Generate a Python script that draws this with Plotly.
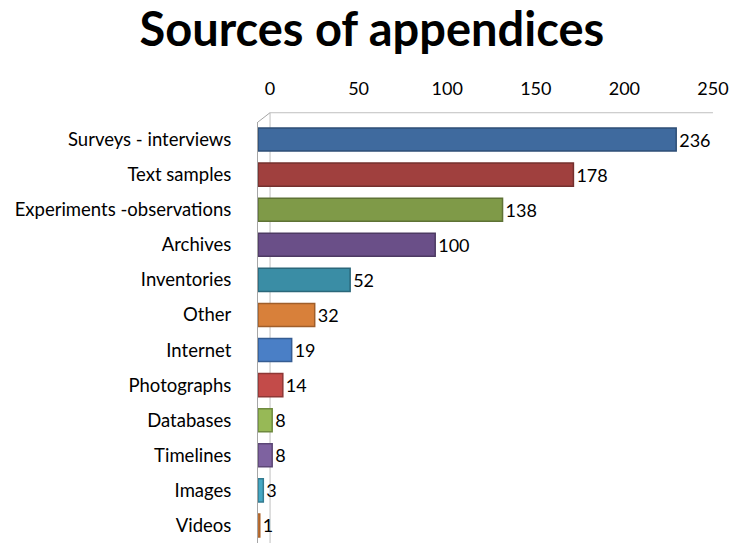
import plotly.graph_objects as go

categories = ["Surveys - interviews", "Text samples", "Experiments -observations",
              "Archives", "Inventories", "Other", "Internet", "Photographs",
              "Databases", "Timelines", "Images", "Videos"]
counts = [236, 178, 138, 100, 52, 32, 19, 14, 8, 8, 3, 1]
tick_values = [0, 50, 100, 150, 200, 250]

bar_colors = ["#3F6A9E", "#A0403E", "#7F9A48", "#6A4F88", "#3A8DA5", "#D8803A",
              "#4A7FC6", "#C34B49", "#97B956", "#7E62A0", "#46A8C4", "#E8883C"]
edge_colors = ["#2E4E75", "#74302E", "#5E7235", "#4D3A63", "#2A677A", "#A05E2A",
               "#355C92", "#8E3735", "#6F8A3F", "#5C4776", "#337B90", "#AC642C"]

FONT = "Lato"

fig = go.Figure(go.Bar(
    y=categories, x=counts, orientation="h",
    width=0.66,
    marker=dict(color=bar_colors, line=dict(color=edge_colors, width=1.5)),
    text=[str(v) for v in counts], textposition="outside",
    textfont=dict(family=FONT, size=18, color="#000000"),
    cliponaxis=False,
))

fig.update_layout(
    width=729, height=543,
    margin=dict(l=258, r=28, t=122, b=0),
    paper_bgcolor="white", plot_bgcolor="white",
    title=dict(text="<b>Sources of appendices</b>", x=0.51, xanchor="center",
               y=0.945, yanchor="middle",
               font=dict(family=FONT, size=47, color="#000000")),
    showlegend=False,
    xaxis=dict(side="top", range=[0, 250], tickvals=tick_values,
               showgrid=False, zeroline=False, showline=False, ticks="",
               ticklabelshift=12, ticklabelstandoff=22,
               tickfont=dict(family=FONT, size=18, color="#000000")),
    yaxis=dict(autorange="reversed", showgrid=False, ticks="",
               showline=True, linecolor="#A6A6A6", linewidth=1,
               ticklabelstandoff=22,
               tickfont=dict(family=FONT, size=18.5, color="#000000")),
    shapes=[
        dict(type="line", xref="x", yref="paper", x0=6.8, x1=6.8, y0=1.022, y1=-0.01,
             line=dict(color="#BFBFBF", width=1), layer="below"),
        dict(type="line", xref="paper", yref="paper", x0=0, x1=0.027, y0=1.0, y1=1.022,
             line=dict(color="#A6A6A6", width=1)),
        dict(type="line", xref="paper", yref="paper", x0=0.027, x1=1.027, y0=1.022, y1=1.022,
             line=dict(color="#BFBFBF", width=1)),
    ],
)

fig.write_html("out.html", config={"displayModeBar": False},
               post_script="document.body.style.margin='0';")
